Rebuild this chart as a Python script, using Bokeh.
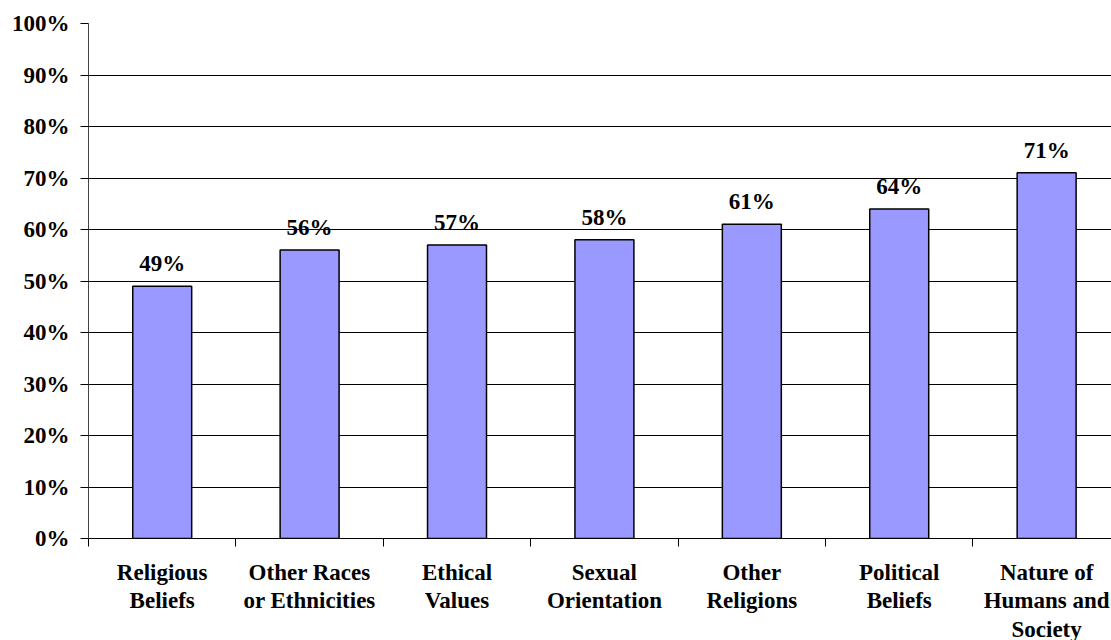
from bokeh.plotting import figure
from bokeh.layouts import column
from bokeh.models import ColumnDataSource, Range1d, FixedTicker, LabelSet
from bokeh.core.properties import value
from bokeh.embed import file_html
from bokeh.resources import INLINE

# Share of respondents by topic
categories = [
    "Religious\nBeliefs",
    "Other Races\nor Ethnicities",
    "Ethical\nValues",
    "Sexual\nOrientation",
    "Other\nReligions",
    "Political\nBeliefs",
    "Nature of\nHumans and\nSociety",
]
values = [49, 56, 57, 58, 61, 64, 71]
y_ticks = [0, 10, 20, 30, 40, 50, 60, 70, 80, 90, 100]

FONT = "'Liberation Serif'"
FONT_SIZE = "23px"
BAR_COLOR = "#9999FF"
CAPTION_H = 90  # height of the caption strip under the chart

centers = [i + 0.5 for i in range(len(categories))]
x_range = Range1d(0, 6.94)

source = ColumnDataSource(dict(
    x=centers,
    top=values,
    label=[f"{v}%" for v in values],
))

# main chart
p = figure(
    width=1111, height=640 - CAPTION_H,
    x_range=x_range, y_range=Range1d(0, 100),
    output_backend="svg", toolbar_location=None,
    min_border_left=88, min_border_top=23, min_border_bottom=12,
    min_border_right=0,
)
p.outline_line_color = None
p.background_fill_color = "white"
p.border_fill_color = "white"

p.vbar(x="x", top="top", bottom=0, width=0.4, source=source,
       fill_color=BAR_COLOR, line_color="black", line_width=1.5)

labels = LabelSet(x="x", y="top", text="label", source=source,
                  text_align="center", text_baseline="alphabetic",
                  y_offset=15, text_font=FONT, text_font_style="bold",
                  text_font_size=FONT_SIZE, text_color="black")
p.add_layout(labels)

# x axis: tick marks at category boundaries only
p.xaxis.ticker = FixedTicker(ticks=list(range(len(categories) + 1)),
                             minor_ticks=[])
p.xaxis.major_label_overrides = {i: "" for i in range(len(categories) + 1)}
p.xaxis.major_tick_in = 0
p.xaxis.major_tick_out = 8
p.xaxis.major_tick_line_color = "black"
p.xaxis.axis_line_color = "black"
p.xaxis.major_label_standoff = 0
p.xaxis.major_label_text_font_size = "1px"

# y axis: percentages
p.yaxis.ticker = FixedTicker(ticks=y_ticks, minor_ticks=[])
p.yaxis.major_label_overrides = {t: f"{t}%" for t in y_ticks}
p.yaxis.major_tick_in = 0
p.yaxis.major_tick_out = 8
p.yaxis.major_tick_line_color = "black"
p.yaxis.axis_line_color = "#444444"
p.yaxis.major_label_standoff = 11
p.yaxis.major_label_text_font = FONT
p.yaxis.major_label_text_font_style = "bold"
p.yaxis.major_label_text_font_size = FONT_SIZE
p.yaxis.major_label_text_color = "black"

p.xgrid.grid_line_color = None
p.ygrid.grid_line_color = "black"
p.ygrid.grid_line_width = 1

# caption strip holding the category names, sharing the x scale
cap = figure(
    width=1111, height=CAPTION_H,
    x_range=x_range, y_range=Range1d(0, CAPTION_H),
    output_backend="svg", toolbar_location=None,
    min_border_left=88, min_border_top=0, min_border_bottom=0,
    min_border_right=0,
)
cap.axis.visible = False
cap.grid.grid_line_color = None
cap.outline_line_color = None
cap.background_fill_color = "white"
cap.border_fill_color = "white"
cap.text(x=centers, y=[CAPTION_H - 9] * len(categories), text=categories,
         text_align="center", text_baseline="top",
         text_font=value(FONT), text_font_style="bold",
         text_font_size=FONT_SIZE, text_color="black",
         text_line_height=1.15)

layout = column(p, cap, spacing=0)
open("out.html", "w").write(file_html(layout, INLINE))
